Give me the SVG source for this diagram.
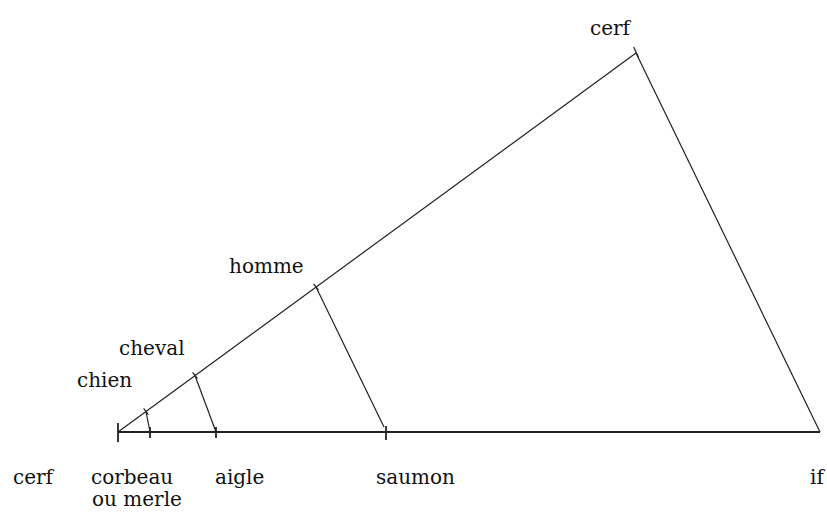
<svg xmlns="http://www.w3.org/2000/svg" width="827" height="516" viewBox="0 0 827 516">
<style>
.t{font-family:"DejaVu Serif","Liberation Serif",serif;font-size:20px;fill:#111}
.l{stroke:#222;stroke-width:1.2;fill:none}
.b{stroke:#222;stroke-width:1.8;fill:none}
</style>
<rect width="827" height="516" fill="#fff"/>
<g id="connectors">
<line class="b" x1="118" y1="432" x2="820" y2="432"/>
<line class="l" x1="118" y1="432" x2="636" y2="53"/>
<line class="l" x1="636" y1="53" x2="820" y2="432"/>
<line class="l" x1="146" y1="411.5" x2="150" y2="432"/>
<line class="l" x1="195" y1="375.5" x2="216" y2="432"/>
<line class="l" x1="316" y1="287" x2="384" y2="427"/>
</g>
<g id="ticks">
<line class="b" x1="118" y1="423" x2="118" y2="442"/>
<line class="b" x1="150" y1="427" x2="150" y2="438"/>
<line class="b" x1="216" y1="427" x2="216" y2="438"/>
<line class="b" x1="386" y1="426" x2="386" y2="440"/>
<line class="l" x1="143.6" y1="408.3" x2="148.4" y2="414.7"/>
<line class="l" x1="192.6" y1="372.3" x2="197.4" y2="378.7"/>
<line class="l" x1="313.6" y1="283.8" x2="318.4" y2="290.2"/>
<line class="l" x1="633.6" y1="47" x2="638.4" y2="57"/>
</g>
<g id="n-cerf-top"><text class="t" x="590" y="35">cerf</text></g>
<g id="n-homme"><text class="t" x="229" y="273">homme</text></g>
<g id="n-cheval"><text class="t" x="119" y="355">cheval</text></g>
<g id="n-chien"><text class="t" x="77" y="387">chien</text></g>
<g id="n-cerf"><text class="t" x="13" y="484">cerf</text></g>
<g id="n-corbeau"><text class="t" x="91" y="484">corbeau</text><text class="t" x="92" y="506">ou merle</text></g>
<g id="n-aigle"><text class="t" x="215" y="484">aigle</text></g>
<g id="n-saumon"><text class="t" x="376" y="484">saumon</text></g>
<g id="n-if"><text class="t" x="810" y="484">if</text></g>
</svg>
